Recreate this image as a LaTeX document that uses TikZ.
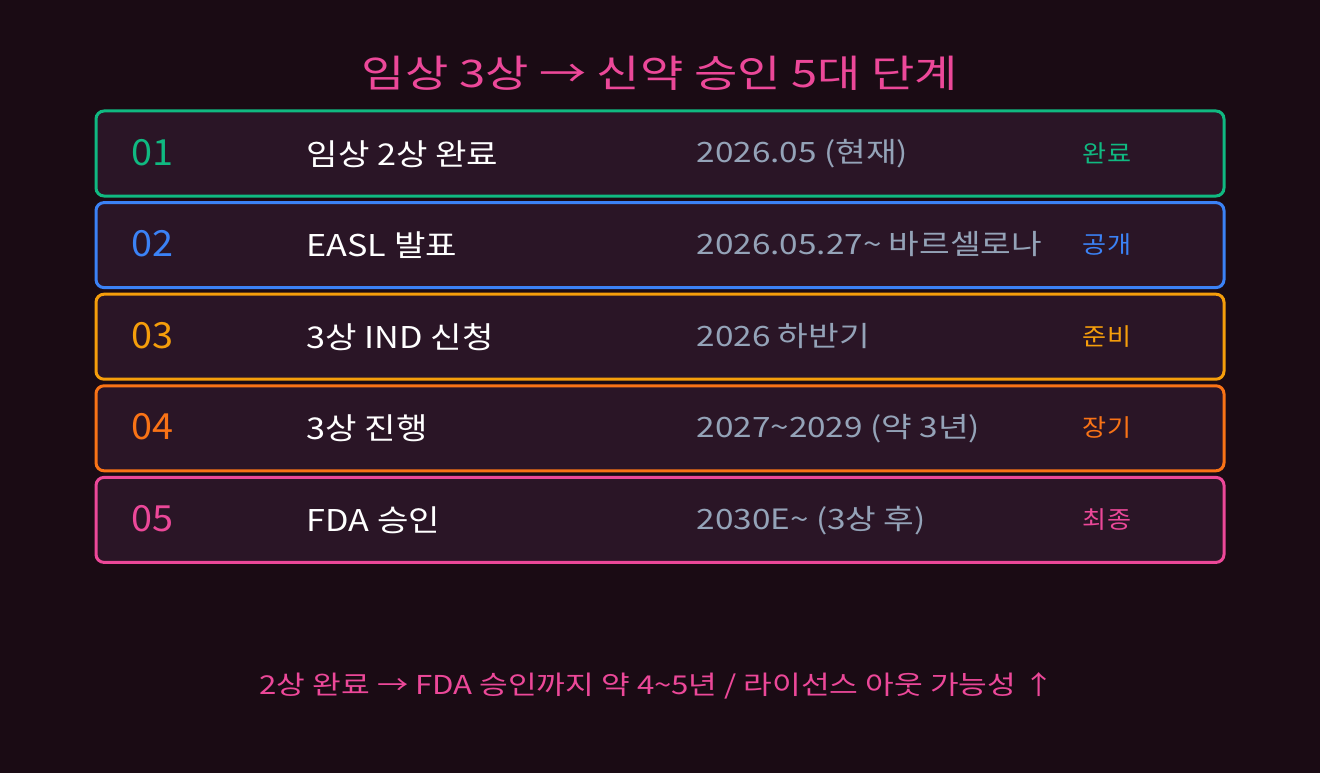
\documentclass[tikz,border=0pt]{standalone}
\usepackage{fontspec}
\setmainfont{Noto Sans CJK KR}
\definecolor{bgdark}{HTML}{1A0B14}
\definecolor{rowfill}{HTML}{2A1526}
\definecolor{titlepink}{HTML}{EC4899}
\definecolor{dategray}{HTML}{94A3B8}
\definecolor{stgreen}{HTML}{10B981}
\definecolor{stblue}{HTML}{3B82F6}
\definecolor{stamber}{HTML}{F59E0B}
\definecolor{storange}{HTML}{F97316}
\definecolor{stpink}{HTML}{EC4899}
\newcommand{\widen}[2]{\scalebox{#1}[1]{#2}}
\tikzset{
  rowbox/.style={line width=3pt,rounded corners=8pt,fill=rowfill},
  numtxt/.style={anchor=base west,font=\fontsize{36}{40}\selectfont},
  labtxt/.style={anchor=base west,text=white,font=\fontsize{30}{34}\selectfont},
  datetxt/.style={anchor=base west,text=dategray,font=\fontsize{28}{32}\selectfont},
  sttxt/.style={anchor=base,font=\fontsize{24}{28}\selectfont}
}
\begin{document}
\begin{tikzpicture}[x=1pt,y=-1pt]
    \fill[bgdark](0,0)rectangle(1320,773);
    \useasboundingbox(0,0)rectangle(1320,773);
    \node[anchor=base,text=titlepink,font=\fontsize{38}{42}\selectfont](title)at(660,88){\widen{1.24}{임상 3상 → 신약 승인 5대 단계}};
    \foreach \i/\n/\lab/\dat/\st/\col in {
        0/01/임상 2상 완료/2026.05 (현재)/완료/stgreen,
        1/02/EASL 발표/2026.05.27\textasciitilde{} 바르셀로나/공개/stblue,
        2/03/3상 IND 신청/2026 하반기/준비/stamber,
        3/04/3상 진행/2027\textasciitilde 2029 (약 3년)/장기/storange,
        4/05/FDA 승인/2030E\textasciitilde{} (3상 후)/최종/stpink}{
            \draw[rowbox,draw=\col](96,111+\i*91.6)rectangle(1224,196+\i*91.6);
            \node[numtxt,text=\col](num\n)at(128,165+\i*91.6){\widen{1.05}{\n}};
            \node[labtxt](lab\n)at(303,165+\i*91.6){\widen{1.14}{\lab}};
            \node[datetxt](date\n)at(693,163+\i*91.6){\widen{1.19}{\dat}};
            \node[sttxt,text=\col](st\n)at(1107,162+\i*91.6){\widen{1.09}{\st}};
        }
    \node[anchor=base,text=titlepink,font=\fontsize{26}{30}\selectfont](note)at(657,694){\widen{1.2}{2상 완료 → FDA 승인까지 약 4\textasciitilde 5년 / 라이선스 아웃 가능성 ↑}};
\end{tikzpicture}
\end{document}
